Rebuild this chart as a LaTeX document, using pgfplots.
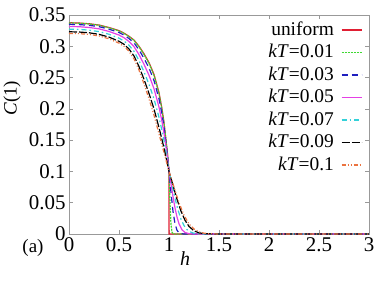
\documentclass[border=0pt]{standalone}
\usepackage{fontspec}
\setmainfont{Liberation Serif}
\usepackage{pgfplots}
\pgfplotsset{compat=1.18}
\definecolor{cred}{rgb}{0.88,0.12,0.2}
\definecolor{cgreen}{rgb}{0.25,0.85,0.2}
\definecolor{cblue}{rgb}{0.12,0.12,0.75}
\definecolor{cmag}{rgb}{0.9,0.25,0.9}
\definecolor{ccyan}{rgb}{0.2,0.82,0.85}
\definecolor{corange}{rgb}{0.92,0.45,0.25}
\definecolor{cframe}{rgb}{0.6,0.6,0.6}
\begin{document}
\begin{tikzpicture}[font=\fontsize{20}{24}\selectfont]
\begin{axis}[
  width=300bp, height=219bp, scale only axis,
  xmin=0, xmax=3, ymin=0, ymax=0.35,
  clip=false,
  xtick={0,0.5,1,1.5,2,2.5,3},
  xticklabels={0,0.5,1,1.5,2,2.5,3},
  ytick={0,0.05,0.1,0.15,0.2,0.25,0.3,0.35},
  yticklabels={0,0.05,0.1,0.15,0.2,0.25,0.3,0.35},
  tick label style={font=\fontsize{21}{21}\selectfont},
  axis line style={cframe, line width=0.7bp},
  major tick style={cframe, line width=0.7bp},
  tick align=inside, major tick length=4bp,
  xlabel={\textit{h}},
  ylabel={\textit{C}(1)},
  xlabel style={at={(rel axis cs:0.387,-0.11)}, anchor=center, font=\fontsize{20}{20}\selectfont},
  ylabel style={at={(rel axis cs:-0.19,0.62)}, anchor=center, font=\fontsize{19}{19}\selectfont},
  legend plot pos=right,
  legend cell align=right,
  legend image code/.code={\draw[#1] (0bp,0bp) -- (20bp,0bp);},
  legend style={draw=none, fill=none, inner sep=0pt, outer sep=0pt,
    at={(rel axis cs:0.977,0.977)}, anchor=north east,
    font=\fontsize{19.5}{20}\selectfont,
    nodes={inner sep=1bp, text height=14bp, text depth=4bp},
    /tikz/column sep=6bp, /tikz/row sep=2.5bp},
  every axis plot/.append style={line width=1.2bp},
]
% uniform
\addplot[cred, solid] coordinates {
(0,0.3376)(0.1,0.3372)(0.2,0.336)(0.3,0.334)(0.4,0.330)(0.5,0.325)(0.55,0.321)(0.6,0.316)(0.65,0.310)(0.7,0.300)(0.75,0.288)(0.8,0.274)(0.85,0.255)(0.9,0.226)(0.93,0.200)(0.95,0.178)(0.97,0.150)(0.985,0.128)(1.0,0.100)(1.0,0)(3,0)};
\addlegendentry{uniform}
% kT=0.01
\addplot[cgreen, dash pattern=on 2bp off 1bp] coordinates {
(0,0.3373)(0.1,0.3369)(0.2,0.3357)(0.3,0.3337)(0.4,0.3296)(0.5,0.3246)(0.55,0.3206)(0.6,0.3155)(0.65,0.3094)(0.7,0.2992)(0.75,0.2870)(0.8,0.2728)(0.85,0.2537)(0.9,0.2247)(0.93,0.1988)(0.95,0.1770)(0.97,0.1494)(0.985,0.1276)(1.0,0.100)(1.005,0.072)(1.01,0.0495)(1.02,0.0156)(1.03,0.0031)(1.04,0.0004)(1.06,0)(3,0)};
\addlegendentry{\textit{kT}=0.01}
% kT=0.03
\addplot[cblue, dash pattern=on 6bp off 4bp] coordinates {
(0,0.3351)(0.1,0.3347)(0.2,0.3335)(0.3,0.3314)(0.4,0.3273)(0.5,0.322)(0.55,0.3179)(0.6,0.3124)(0.65,0.3055)(0.7,0.2943)(0.75,0.2808)(0.8,0.2653)(0.85,0.2453)(0.9,0.2161)(0.93,0.1913)(0.95,0.1708)(0.97,0.1452)(0.985,0.1252)(1.0,0.100)(1.02,0.0664)(1.04,0.0362)(1.06,0.0163)(1.08,0.0060)(1.1,0.0018)(1.12,0.0005)(1.15,0)(3,0)};
\addlegendentry{\textit{kT}=0.03}
% kT=0.05
\addplot[cmag, solid] coordinates {
(0,0.3317)(0.1,0.3313)(0.2,0.3301)(0.3,0.3279)(0.4,0.3237)(0.5,0.318)(0.55,0.3137)(0.6,0.3076)(0.65,0.2995)(0.7,0.2867)(0.75,0.2712)(0.8,0.2537)(0.85,0.2323)(0.9,0.2029)(0.93,0.1797)(0.95,0.1612)(0.97,0.1388)(0.985,0.1214)(1.0,0.100)(1.02,0.0801)(1.04,0.0598)(1.06,0.0416)(1.08,0.0271)(1.1,0.0164)(1.13,0.0068)(1.16,0.0024)(1.2,0.0005)(1.25,0)(3,0)};
\addlegendentry{\textit{kT}=0.05}
% kT=0.07
\addplot[ccyan, dash pattern=on 5bp off 3bp on 1.5bp off 3bp] coordinates {
(0,0.3274)(0.1,0.3270)(0.2,0.3258)(0.3,0.3235)(0.4,0.3192)(0.5,0.313)(0.55,0.3084)(0.6,0.3016)(0.65,0.292)(0.7,0.2772)(0.75,0.2592)(0.8,0.2392)(0.85,0.216)(0.9,0.1864)(0.93,0.1652)(0.95,0.1492)(0.97,0.1308)(0.985,0.1166)(1.0,0.100)(1.03,0.0787)(1.06,0.0571)(1.09,0.0383)(1.12,0.0237)(1.15,0.0135)(1.18,0.0071)(1.21,0.0035)(1.25,0.0012)(1.3,0.00025)(1.35,0)(3,0)};
\addlegendentry{\textit{kT}=0.07}
% kT=0.09
\addplot[black, dash pattern=on 8bp off 2bp] coordinates {
(0,0.3232)(0.1,0.3228)(0.2,0.3216)(0.3,0.3191)(0.4,0.3147)(0.5,0.308)(0.55,0.3032)(0.6,0.2956)(0.65,0.2845)(0.7,0.2677)(0.75,0.2472)(0.8,0.2247)(0.85,0.1998)(0.9,0.1699)(0.93,0.1507)(0.95,0.1372)(0.97,0.1228)(0.985,0.1119)(1.0,0.100)(1.04,0.0779)(1.08,0.0556)(1.12,0.0365)(1.16,0.022)(1.2,0.0121)(1.25,0.0051)(1.3,0.0019)(1.35,0.0006)(1.45,0)(3,0)};
\addlegendentry{\textit{kT}=0.09}
% kT=0.1
\addplot[corange, dash pattern=on 4bp off 2bp on 1bp off 2bp on 1bp off 2bp] coordinates {
(0,0.3206)(0.1,0.3202)(0.2,0.319)(0.3,0.3165)(0.4,0.312)(0.5,0.305)(0.55,0.300)(0.6,0.292)(0.65,0.280)(0.7,0.262)(0.75,0.240)(0.8,0.216)(0.85,0.190)(0.9,0.160)(0.93,0.142)(0.95,0.130)(0.97,0.118)(0.985,0.109)(1.0,0.100)(1.05,0.075)(1.1,0.050)(1.15,0.030)(1.2,0.016)(1.25,0.008)(1.3,0.0035)(1.35,0.0013)(1.4,0.0005)(1.5,0)(3,0)};
\addlegendentry{\textit{kT}=0.1}
\node[font=\fontsize{19}{19}\selectfont] at (rel axis cs:-0.12,-0.064) {(a)};
\end{axis}
\pgfresetboundingbox
\path ([shift={(-69bp,-51bp)}]current axis.south west) rectangle ([shift={(5bp,15bp)}]current axis.north east);
\end{tikzpicture}
\end{document}
